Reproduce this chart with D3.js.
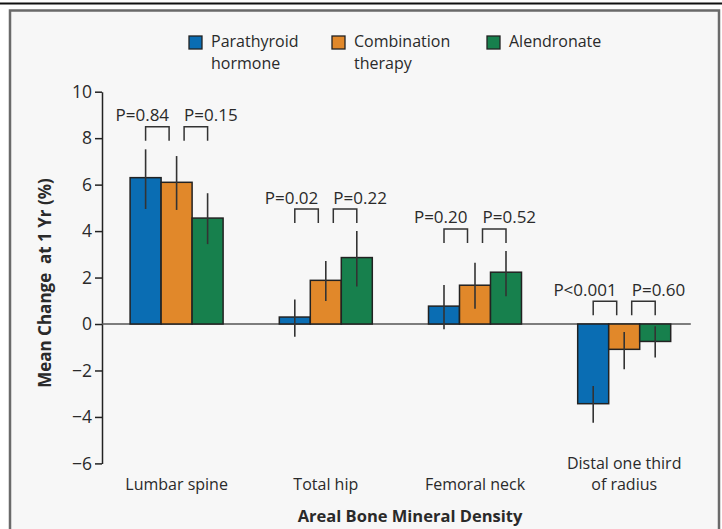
<!DOCTYPE html>
<html>
<head>
<meta charset="utf-8">
<script src="https://cdn.jsdelivr.net/npm/d3@7"></script>
<style>
	body { margin: 0; background: #fff; }
	svg { display: block; }
	text { font-family: "Open Sans", sans-serif; fill: #2a2a2a; }
</style>
</head>
<body>
<svg width="722" height="529"></svg>
<script>
// values
var sites = ["Lumbar spine", "Total hip", "Femoral neck", "Distal one third of radius"];
var siteLines = [["Lumbar spine"], ["Total hip"], ["Femoral neck"], ["Distal one third", "of radius"]];
var groups = ["Parathyroid hormone", "Combination therapy", "Alendronate"];
var groupLines = [["Parathyroid", "hormone"], ["Combination", "therapy"], ["Alendronate"]];

var pthMean = [6.3, 0.3, 0.77, -3.43];
var pthLow = [4.95, -0.55, -0.23, -4.25];
var pthHigh = [7.52, 1.06, 1.68, -2.67];

var comboMean = [6.1, 1.88, 1.67, -1.09];
var comboLow = [4.91, 0.99, 0.66, -1.95];
var comboHigh = [7.23, 2.71, 2.64, -0.34];

var alenMean = [4.56, 2.86, 2.23, -0.75];
var alenLow = [3.44, 1.61, 1.2, -1.44];
var alenHigh = [5.63, 4.0, 3.14, -0.1];

var pLeft = ["P=0.84", "P=0.02", "P=0.20", "P<0.001"];
var pRight = ["P=0.15", "P=0.22", "P=0.52", "P=0.60"];
var bracketLevel = [8.49, 4.95, 4.09, 0.98];

var yTicks = [-6, -4, -2, 0, 2, 4, 6, 8, 10];
var colors = ["#0a6db3", "#e1882a", "#17804d"];

class BmdChart {

	constructor() {
		this.svg = d3.select("svg");
	}

	init() {
		this.drawFrame();
		this.buildScales();
		this.drawAxes();
		this.drawBars();
		this.drawBrackets();
		this.drawLegend();
	}

	drawFrame()
	{
		this.svg.append("line")
			.attr("x1", 0).attr("x2", 722)
			.attr("y1", 3.5).attr("y2", 3.5)
			.attr("stroke", "#111").attr("stroke-width", 2);

		this.svg.append("rect")
			.attr("x", 10).attr("y", 10.5)
			.attr("width", 709).attr("height", 540)
			.attr("fill", "#f7f7f7")
			.attr("stroke", "#6a6a6a").attr("stroke-width", 2.5);
	}

	buildScales()
	{
		this.x = d3.scaleBand().domain(sites).range([102, 698.8]);
		this.xi = d3.scaleBand().domain(groups).range([-46.5, 46.5]);
		this.y = d3.scaleLinear().domain([-6, 10]).range([463.4, 91.7]);
	}

	center(i)
	{
		return this.x(sites[i]) + this.x.bandwidth() / 2;
	}

	drawAxes()
	{
		var that = this;
		var ax = this.svg.append("g")
			.attr("transform", "translate(102,0)")
			.call(d3.axisLeft(this.y).tickValues(yTicks).tickSize(7).tickSizeOuter(0).tickPadding(3));
		ax.select(".domain").attr("stroke", "#222").attr("stroke-width", 1.5);
		ax.selectAll(".tick line").attr("stroke", "#222").attr("stroke-width", 1.5);
		ax.selectAll(".tick text")
			.style("font-family", "'Open Sans', sans-serif")
			.style("font-size", "17.5px")
			.attr("fill", "#2a2a2a");

		// zero line
		this.svg.append("line")
			.attr("x1", 102).attr("x2", this.x.range()[1] - 8)
			.attr("y1", this.y(0)).attr("y2", this.y(0))
			.attr("stroke", "#555").attr("stroke-width", 1.5);

		// site labels
		var lab = this.svg.append("g").selectAll("text").data(siteLines)
			.enter().append("text")
			.attr("text-anchor", "middle")
			.style("font-size", "16px")
			.attr("x", function(d, i) { return that.center(i); })
			.attr("y", function(d) { return 490 - (d.length - 1) * 21; });
		lab.selectAll("tspan").data(function(d) { return d; })
			.enter().append("tspan")
			.attr("x", function() { return d3.select(this.parentNode).attr("x"); })
			.attr("dy", function(d, i) { return i ? 21 : 0; })
			.text(function(d) { return d; });

		this.svg.append("text")
			.attr("x", 410).attr("y", 522)
			.attr("text-anchor", "middle")
			.style("font-size", "16.5px").style("font-weight", "bold")
			.text("Areal Bone Mineral Density");

		this.svg.append("text")
			.attr("transform", "translate(51,283) rotate(-90)")
			.attr("text-anchor", "middle")
			.style("font-size", "17px").style("font-weight", "bold")
			.style("white-space", "pre")
			.text("Mean Change  at 1 Yr (%)");
	}

	drawBars()
	{
		var that = this;
		var means = [pthMean, comboMean, alenMean];
		var lows = [pthLow, comboLow, alenLow];
		var highs = [pthHigh, comboHigh, alenHigh];

		var rows = [];
		sites.forEach(function(s, i) {
			groups.forEach(function(g, j) {
				rows.push({site: i, group: j, v: means[j][i], lo: lows[j][i], hi: highs[j][i]});
			});
		});

		var y = this.y;
		var bars = this.svg.append("g").selectAll("g").data(rows)
			.enter().append("g");

		bars.append("rect")
			.attr("x", function(d) { return that.center(d.site) + that.xi(groups[d.group]); })
			.attr("width", this.xi.bandwidth())
			.attr("y", function(d) { return y(Math.max(0, d.v)); })
			.attr("height", function(d) { return Math.abs(y(d.v) - y(0)); })
			.attr("fill", function(d) { return colors[d.group]; })
			.attr("stroke", "#222").attr("stroke-width", 1.5);

		bars.append("line")
			.attr("x1", function(d) { return that.center(d.site) + that.xi(groups[d.group]) + that.xi.bandwidth() / 2; })
			.attr("x2", function(d) { return that.center(d.site) + that.xi(groups[d.group]) + that.xi.bandwidth() / 2; })
			.attr("y1", function(d) { return y(d.hi); })
			.attr("y2", function(d) { return y(d.lo); })
			.attr("stroke", "#333").attr("stroke-width", 1.6);
	}

	drawBrackets()
	{
		var that = this;
		var half = this.xi.bandwidth() / 2;
		var g = this.svg.append("g");

		sites.forEach(function(s, i) {
			var c = that.center(i);
			var top = that.y(bracketLevel[i]);
			var spans = [
				[c + that.xi(groups[0]) + half, c + that.xi(groups[1]) + half - 7.5],
				[c + that.xi(groups[1]) + half + 7.5, c + that.xi(groups[2]) + half]
			];
			spans.forEach(function(sp) {
				g.append("path")
					.attr("d", "M" + sp[0] + "," + (top + 14) + "V" + top + "H" + sp[1] + "V" + (top + 14))
					.attr("fill", "none").attr("stroke", "#333").attr("stroke-width", 1.5);
			});
			g.append("text")
				.attr("x", spans[0][1]).attr("y", top - 5.5)
				.attr("text-anchor", "end")
				.style("font-size", "17px")
				.text(pLeft[i]);
			g.append("text")
				.attr("x", spans[1][0]).attr("y", top - 5.5)
				.style("font-size", "17px")
				.text(pRight[i]);
		});
	}

	drawLegend()
	{
		var xs = [189, 332, 487];
		var leg = this.svg.append("g").selectAll("g").data(groupLines)
			.enter().append("g")
			.attr("transform", function(d, i) { return "translate(" + xs[i] + ",36)"; });

		leg.append("rect")
			.attr("width", 13).attr("height", 13)
			.attr("fill", function(d, i) { return colors[i]; })
			.attr("stroke", "#222").attr("stroke-width", 1.3);

		leg.append("text")
			.attr("x", 22).attr("y", 11)
			.style("font-size", "16px")
			.selectAll("tspan").data(function(d) { return d; })
			.enter().append("tspan")
			.attr("x", 22)
			.attr("dy", function(d, i) { return i ? 21.5 : 0; })
			.text(function(d) { return d; });
	}
}

var chart = new BmdChart();
chart.init();
</script>
</body>
</html>
